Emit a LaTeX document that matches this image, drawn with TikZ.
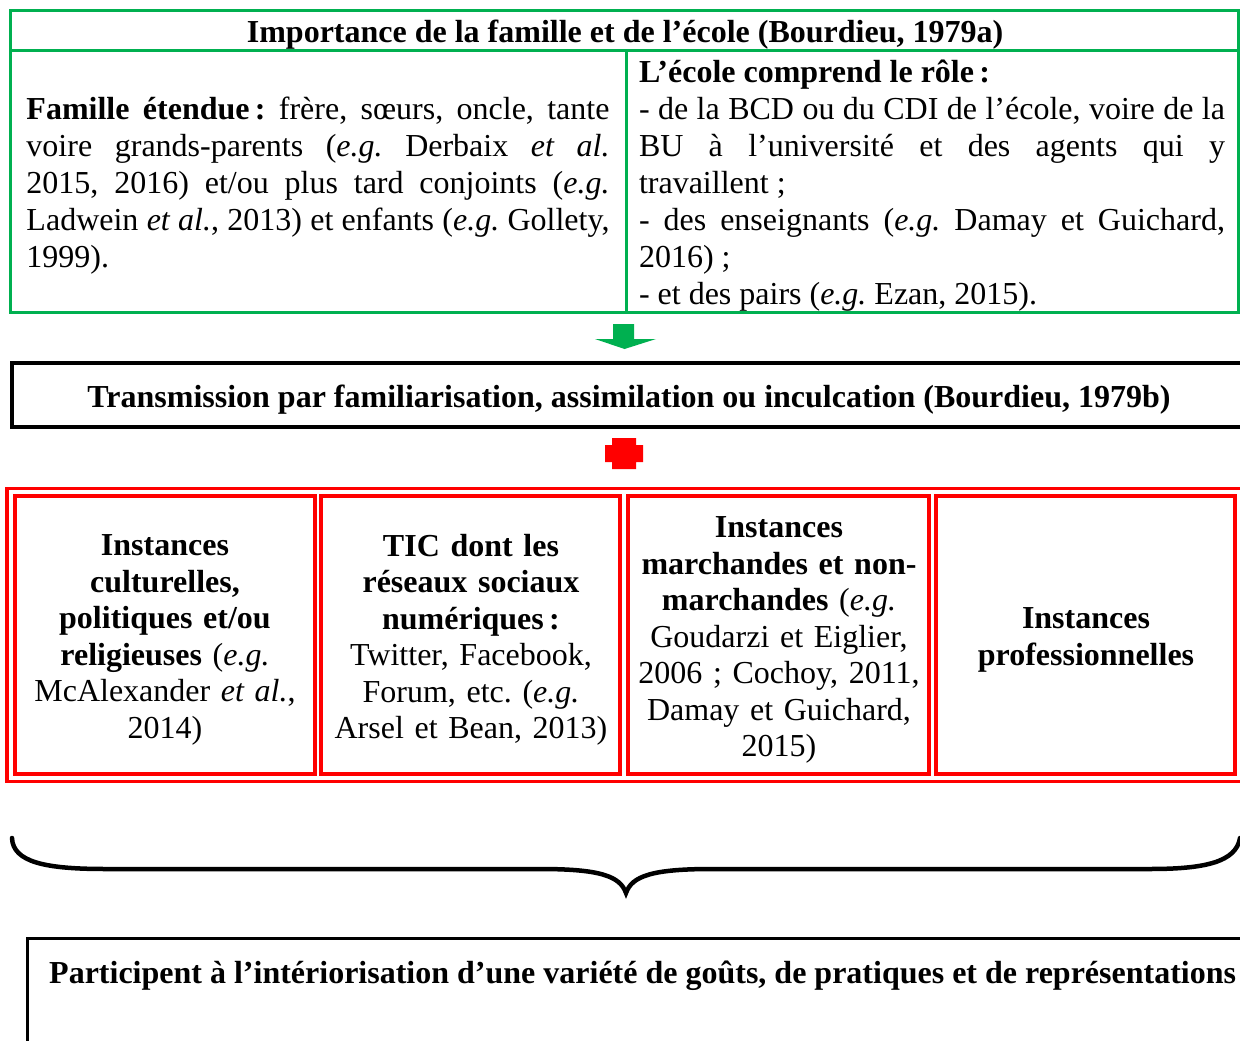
\documentclass[tikz,border=0pt]{standalone}
\usepackage{fontspec}
\setmainfont{Liberation Serif}
\frenchspacing
\definecolor{wgreen}{RGB}{0,176,80}
\definecolor{wred}{RGB}{255,0,0}
\begin{document}
\begin{tikzpicture}[x=1pt,y=-1pt,
  txt/.style={font=\fontsize{32}{37}\selectfont,inner sep=0pt},
  gcell/.style={draw=wgreen,line width=3pt,inner sep=0pt},
  rcell/.style={draw=wred,line width=3.5pt,minimum width=300pt,minimum height=278pt,inner sep=0pt},
  rtxt/.style={text width=290pt,align=center,inner sep=0pt,font=\fontsize{32}{36.5}\selectfont},
]
\useasboundingbox (0,0) rectangle (1240,1041);
\clip (0,0) rectangle (1240,1041);
\fill[white] (0,0) rectangle (1240,1041);

% green table
\node[gcell,minimum width=1228pt,minimum height=40pt] (hdr) at (624,31) {};
\node[txt] (hdrtxt) at (625,35)
  {\textbf{Importance de la famille et de l’école (Bourdieu, 1979a)}};
\node[gcell,minimum width=616pt,minimum height=261pt] (fam) at (318,181.5) {};
\node[txt,text width=583pt,align=justify] (famtxt) at (318,185.5)
  {\textbf{Famille étendue\,:} frère, sœurs, oncle, tante\linebreak
   voire grands-parents (\textit{e.g.} Derbaix \textit{et al.}\linebreak
   2015, 2016) et/ou plus tard conjoints (\textit{e.g.}\linebreak
   Ladwein \textit{et al.}, 2013) et enfants (\textit{e.g.} Gollety,\linebreak
   1999).};
\node[gcell,minimum width=612pt,minimum height=261pt] (ecole) at (932,181.5) {};
\node[txt,text width=586pt,align=justify] (ecoletxt) at (932,186)
  {\textbf{L’école comprend le rôle\,:}\\
   - de la BCD ou du CDI de l’école, voire de la\linebreak
   BU à l’université et des agents qui y\linebreak
   travaillent ;\\
   - des enseignants (\textit{e.g.} Damay et Guichard,\linebreak
   2016) ;\\
   - et des pairs (\textit{e.g.} Ezan, 2015).};

% green block arrow
\coordinate (garrow) at (624.5,324);
\fill[wgreen] (613,324) -- (634,324) -- (634,339) -- (656,339) -- (624.5,349) -- (595,339) -- (613,339) -- cycle;

% black box
\draw[line width=3.5pt] (12,363) rectangle (1262,427);
\node[txt] (trans) at (629,400)
  {\textbf{Transmission par familiarisation, assimilation ou inculcation (Bourdieu, 1979b)}};

% red plus
\fill[wred] (612,438) -- (636,438) -- (636,445) -- (643,445) -- (643,462) -- (636,462) -- (636,469)
  -- (612,469) -- (612,462) -- (605,462) -- (605,445) -- (612,445) -- cycle;

% red table
\draw[wred,line width=3.5pt] (7,488.5) rectangle (1262,781.5);
\node[rcell] (c1) at (165,635) {};
\node[rcell,minimum width=299pt] (c2) at (470.5,635) {};
\node[rcell,minimum width=301pt] (c3) at (778.5,635) {};
\node[rcell,minimum width=299pt] (c4) at (1085.5,635) {};
\node[rtxt] (t1) at (165,640)
  {\textbf{Instances}\\ \textbf{culturelles,}\\ \textbf{politiques et/ou}\\
   \textbf{religieuses} (\textit{e.g.}\\ McAlexander \textit{et al.},\\ 2014)};
\node[rtxt] (t2) at (471,640)
  {\textbf{TIC dont les}\\ \textbf{réseaux sociaux}\\ \textbf{numériques\,:}\\
   Twitter, Facebook,\\ Forum, etc. (\textit{e.g.}\\ Arsel et Bean, 2013)};
\node[rtxt] (t3) at (779,640)
  {\textbf{Instances}\\ \textbf{marchandes et non-}\\ \textbf{marchandes} (\textit{e.g.}\\
   Goudarzi et Eiglier,\\ 2006 ; Cochoy, 2011,\\ Damay et Guichard,\\ 2015)};
\node[rtxt] (t4) at (1086,640)
  {\textbf{Instances}\\ \textbf{professionnelles}};

% brace
\draw[line width=4.5pt,line cap=round] (12,838) .. controls (13,862) and (45,869) .. (105,869)
  -- (540,869) .. controls (600,869) and (620,876) .. (626,893)
  .. controls (632,876) and (652,869) .. (712,869) -- (1150,869)
  .. controls (1205,869) and (1236,862) .. (1240,838);

% bottom box
\draw[line width=3pt] (27,938) rectangle (1262,1080);
\node[txt,anchor=west] (part) at (49,976)
  {\textbf{Participent à l’intériorisation d’une variété de goûts, de pratiques et de représentations}};
\end{tikzpicture}
\end{document}
